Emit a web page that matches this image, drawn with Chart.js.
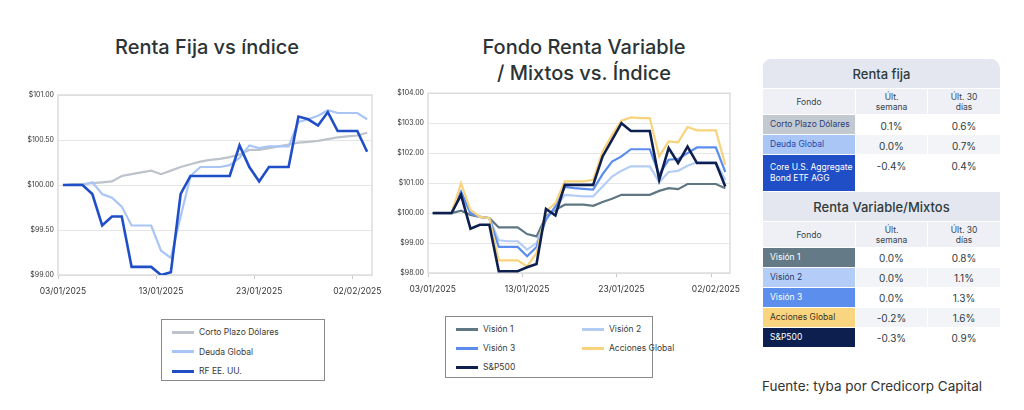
<!DOCTYPE html>
<html>
<head>
<meta charset="utf-8">
<script src="https://cdn.jsdelivr.net/npm/chart.js@4.4.1/dist/chart.umd.min.js"></script>
<style>
  body { margin: 0; width: 1024px; height: 410px; background: #fff; position: relative; overflow: hidden; font-family: Inter, "Noto Sans", sans-serif; color: #2b3336; }
  .title { position: absolute; text-align: center; font-size: 20px; font-weight: 500; line-height: 26px; color: #2b3336; }
  .box { position: absolute; }
  .legend { position: absolute; border: 1px solid #8a8a8a; box-sizing: border-box; font-size: 8.5px; color: #3a3a3a; }
  .legend .item { position: absolute; display: flex; align-items: center; height: 12px; white-space: nowrap; }
  .legend .swatch { width: 22px; height: 3px; margin-right: 5px; }
  #tabla { position: absolute; left: 762px; top: 58px; width: 238px; border-radius: 12px 12px 0 0; overflow: hidden; background: #e4e7ef; }
  #tabla table { border-collapse: collapse; width: 238px; table-layout: fixed; }
  #tabla td { border: 1px solid #ffffff; padding: 0; text-align: center; vertical-align: middle; }
  #tabla .sec { height: 29px; font-size: 13px; font-weight: 500; color: #2f3b3b; background: #e4e7ef; }
  #tabla .hdr td { background: #eef0f6; font-size: 8.5px; line-height: 10px; color: #39424a; }
  #tabla .name { text-align: left; padding-left: 7px; font-size: 8.5px; line-height: 11px; }
  #tabla .val { font-size: 10px; color: #2d3b3f; background: #fff; }
  #tabla .alt .val { background: #f3f4f7; }
  #fuente { position: absolute; left: 762px; top: 378px; font-size: 13.5px; color: #333; }
</style>
</head>
<body>
<div class="title" style="left:57px;top:34px;width:300px">Renta Fija vs índice</div>
<div class="title" style="left:434px;top:34px;width:300px">Fondo Renta Variable<br>/ Mixtos vs. Índice</div>

<div class="box" style="left:0;top:85px;width:390px;height:215px"><canvas id="rfChart" width="390" height="215"></canvas></div>
<div class="box" style="left:380px;top:85px;width:370px;height:215px"><canvas id="rvChart" width="370" height="215"></canvas></div>

<div class="legend" id="rfLegend" style="left:161px;top:319px;width:164px;height:62px"></div>
<div class="legend" id="rvLegend" style="left:445px;top:316px;width:208px;height:62px"></div>

<div id="tabla"></div>
<div id="fuente">Fuente: tyba por Credicorp Capital</div>

<script>
// fechas (eje x)
const fechas = [
  "03/01/2025", "04/01/2025", "05/01/2025", "06/01/2025", "07/01/2025", "08/01/2025", "09/01/2025", "10/01/2025",
  "11/01/2025", "12/01/2025", "13/01/2025", "14/01/2025", "15/01/2025", "16/01/2025", "17/01/2025", "18/01/2025",
  "19/01/2025", "20/01/2025", "21/01/2025", "22/01/2025", "23/01/2025", "24/01/2025", "25/01/2025", "26/01/2025",
  "27/01/2025", "28/01/2025", "29/01/2025", "30/01/2025", "31/01/2025", "01/02/2025", "02/02/2025", "03/02/2025"
];

// Renta fija
const rfNombres = ["Corto Plazo Dólares", "Deuda Global", "RF EE. UU."];
const rfColores = ["#bcc3ca", "#a9c5f6", "#1f4ec6"];
const cortoPlazo = [100.00, 100.01, 100.01, 100.02, 100.03, 100.04, 100.10, 100.12, 100.14, 100.16,
  100.12, 100.16, 100.20, 100.23, 100.26, 100.28, 100.29, 100.31, 100.34, 100.39,
  100.39, 100.41, 100.43, 100.45, 100.47, 100.48, 100.49, 100.51, 100.53, 100.54, 100.55, 100.58];
const deudaGlobal = [100.00, 100.00, 100.00, 100.03, 99.90, 99.86, 99.76, 99.55, 99.55, 99.55,
  99.27, 99.19, 99.65, 100.10, 100.20, 100.20, 100.20, 100.22, 100.30, 100.44,
  100.41, 100.43, 100.43, 100.43, 100.70, 100.73, 100.77, 100.83, 100.80, 100.80, 100.80, 100.73];
const rfEEUU = [100.00, 100.00, 100.00, 99.90, 99.55, 99.65, 99.65, 99.09, 99.09, 99.09,
  99.00, 99.03, 99.90, 100.10, 100.10, 100.10, 100.10, 100.10, 100.44, 100.20,
  100.04, 100.20, 100.20, 100.20, 100.76, 100.73, 100.66, 100.81, 100.60, 100.60, 100.60, 100.37];
const rfTicks = [99.00, 99.50, 100.00, 100.50, 101.00];

// Renta variable / mixtos
const rvNombres = ["Visión 1", "Visión 2", "Visión 3", "Acciones Global", "S&P500"];
const rvColores = ["#5f7683", "#b4cdf7", "#5b8dee", "#f8d37c", "#0c1f4f"];
const vision1 = [100.00, 100.00, 100.00, 100.08, 99.94, 99.87, 99.83, 99.52, 99.52, 99.52,
  99.30, 99.22, 99.89, 100.11, 100.28, 100.28, 100.28, 100.24, 100.37, 100.48,
  100.61, 100.61, 100.61, 100.61, 100.74, 100.83, 100.80, 100.97, 100.97, 100.97, 100.97, 100.83];
const vision2 = [100.00, 100.00, 100.00, 100.61, 100.00, 99.87, 99.83, 99.09, 99.06, 99.06,
  98.78, 99.00, 99.83, 100.17, 100.61, 100.58, 100.56, 100.56, 100.89, 101.22,
  101.41, 101.56, 101.56, 101.56, 101.03, 101.37, 101.41, 101.58, 101.70, 101.70, 101.70, 101.10];
const vision3 = [100.00, 100.00, 100.00, 100.72, 100.00, 99.87, 99.83, 98.87, 98.87, 98.87,
  98.56, 98.87, 99.78, 100.22, 100.87, 100.83, 100.81, 100.78, 101.30, 101.72,
  101.89, 102.13, 102.13, 102.13, 101.28, 101.78, 101.81, 102.00, 102.19, 102.19, 102.19, 101.37];
const accionesGlobal = [100.00, 100.00, 100.00, 101.00, 100.11, 99.87, 99.83, 98.42, 98.42, 98.42,
  98.22, 98.67, 100.06, 100.33, 101.06, 101.06, 101.06, 101.11, 102.06, 102.61,
  103.08, 103.19, 103.17, 103.17, 101.89, 102.39, 102.36, 102.87, 102.76, 102.76, 102.76, 101.61];
const sp500 = [100.00, 100.00, 100.00, 100.61, 99.48, 99.61, 99.61, 98.06, 98.06, 98.06,
  98.19, 98.30, 100.14, 99.92, 100.94, 100.94, 100.94, 100.94, 101.89, 102.44,
  103.00, 102.74, 102.74, 102.74, 101.11, 102.17, 101.67, 102.22, 101.67, 101.67, 101.67, 100.89];
const rvTicks = [98, 99, 100, 101, 102, 103, 104];

// tablas
const rfFondos = ["Corto Plazo Dólares", "Deuda Global", "Core U.S. Aggregate Bond ETF AGG"];
const rfSemana = ["0.1%", "0.0%", "-0.4%"];
const rf30 = ["0.6%", "0.7%", "0.4%"];
const rfFondoColores = [["#c3c9d0", "#2b3d78"], ["#a9c6f7", "#2546a8"], ["#1f4ec6", "#ffffff"]];
const rvFondos = ["Visión 1", "Visión 2", "Visión 3", "Acciones Global", "S&P500"];
const rvSemana = ["0.0%", "0.0%", "0.0%", "-0.2%", "-0.3%"];
const rv30 = ["0.8%", "1.1%", "1.3%", "1.6%", "0.9%"];
const rvFondoColores = [["#647a86", "#ffffff"], ["#b3cdf8", "#24386a"], ["#5c8eee", "#ffffff"], ["#f8d57e", "#3a3320"], ["#0d1f4f", "#ffffff"]];

// borde del área de trazado
const plotBorder = {
  id: "plotBorder",
  beforeDatasetsDraw(chart) {
    const { ctx, chartArea: a } = chart;
    ctx.save();
    ctx.strokeStyle = "#dcdcdc";
    ctx.lineWidth = 1.5;
    ctx.strokeRect(a.left, a.top, a.right - a.left, a.bottom - a.top);
    ctx.restore();
  }
};

function crearGrafico(id, series, nombres, colores, anchos, ticks, ejeY, ejeX, padding) {
  new Chart(document.getElementById(id), {
    type: "line",
    data: {
      labels: fechas,
      datasets: series.map((s, i) => ({
        label: nombres[i],
        data: s,
        borderColor: colores[i],
        borderWidth: anchos[i],
        pointRadius: 0,
        tension: 0,
        fill: false,
        order: series.length - i
      }))
    },
    options: {
      responsive: false,
      animation: false,
      layout: { padding: padding },
      plugins: { legend: { display: false }, tooltip: { enabled: false } },
      scales: {
        x: {
          offset: true,
          afterFit(scale) { scale.height = ejeX; },
          grid: {
            offset: true,
            drawOnChartArea: false,
            tickLength: 4,
            color: ctx => (ctx.index % 10 === 0 ? "#c8c8c8" : "transparent")
          },
          border: { display: false },
          ticks: {
            autoSkip: false,
            maxRotation: 0,
            minRotation: 0,
            padding: 7,
            color: "#333",
            font: { family: "Inter", size: 8.5 },
            callback: (v, i) => (i % 10 === 0 ? fechas[i] : "")
          }
        },
        y: {
          min: ticks[0],
          max: ticks[ticks.length - 1],
          afterFit(scale) { scale.width = ejeY; },
          afterBuildTicks(scale) { scale.ticks = ticks.map(v => ({ value: v })); },
          grid: { color: "#e6e6e6", drawTicks: false, lineWidth: 1 },
          border: { display: false },
          ticks: {
            padding: 4,
            color: "#333",
            font: { family: "Inter", size: 7 },
            callback: v => "$" + Number(v).toFixed(2)
          }
        }
      }
    },
    plugins: [plotBorder]
  });
}

crearGrafico("rfChart", [cortoPlazo, deudaGlobal, rfEEUU], rfNombres, rfColores, [2.2, 2.2, 2.6],
  rfTicks, 58, 25, { top: 10, right: 18, left: 0, bottom: 0 });
crearGrafico("rvChart", [vision1, vision2, vision3, accionesGlobal, sp500], rvNombres, rvColores, [2.2, 2.2, 2.2, 2.2, 2.6],
  rvTicks, 48, 27, { top: 7, right: 20, left: 0, bottom: 0 });

// leyendas
function crearLeyenda(id, nombres, colores, posiciones) {
  const el = document.getElementById(id);
  nombres.forEach((n, i) => {
    const item = document.createElement("div");
    item.className = "item";
    item.style.left = posiciones[i][0] + "px";
    item.style.top = posiciones[i][1] + "px";
    item.innerHTML = `<span class="swatch" style="background:${colores[i]}"></span><span>${n}</span>`;
    el.appendChild(item);
  });
}
crearLeyenda("rfLegend", rfNombres, rfColores, [[10, 6], [10, 25.5], [10, 45]]);
crearLeyenda("rvLegend", rvNombres, rvColores, [[10, 6], [136, 6], [10, 25], [136, 25], [10, 44]]);

// tabla
function filaSeccion(titulo) {
  return `<tr><td colspan="3" class="sec">${titulo}</td></tr>
    <tr class="hdr" style="height:26px"><td>Fondo</td><td>Últ.<br>semana</td><td>Últ. 30<br>días</td></tr>`;
}
let html = `<table><colgroup><col style="width:93px"><col style="width:72px"><col style="width:73px"></colgroup>`;
html += filaSeccion("Renta fija");
rfFondos.forEach((f, i) => {
  const alto = i === 2 ? 37 : 20;
  const va = i === 2 ? "top;padding-top:5px" : "middle;padding-top:3px";
  html += `<tr class="${i % 2 ? "alt" : ""}" style="height:${alto}px">
    <td class="name" style="background:${rfFondoColores[i][0]};color:${rfFondoColores[i][1]}">${f}</td>
    <td class="val" style="vertical-align:${va}">${rfSemana[i]}</td>
    <td class="val" style="vertical-align:${va}">${rf30[i]}</td></tr>`;
});
html += filaSeccion("Renta Variable/Mixtos");
rvFondos.forEach((f, i) => {
  html += `<tr class="${i % 2 ? "alt" : ""}" style="height:20px">
    <td class="name" style="background:${rvFondoColores[i][0]};color:${rvFondoColores[i][1]}">${f}</td>
    <td class="val">${rvSemana[i]}</td><td class="val">${rv30[i]}</td></tr>`;
});
html += `</table>`;
document.getElementById("tabla").innerHTML = html;
</script>
</body>
</html>
